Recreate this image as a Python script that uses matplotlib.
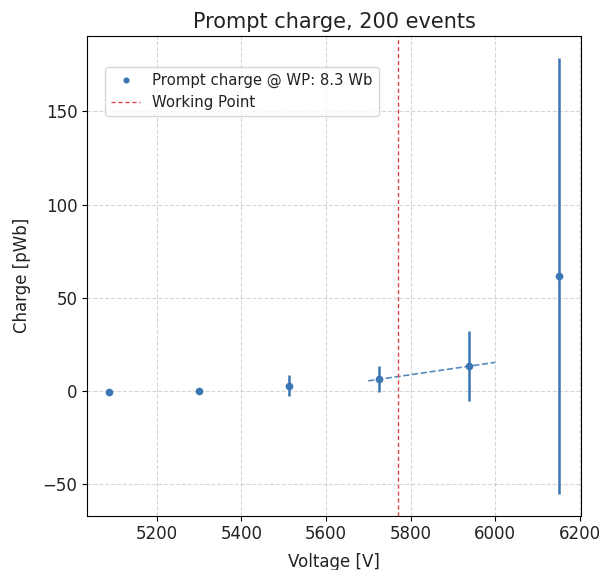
import numpy as np
import matplotlib
matplotlib.use('Agg')
import matplotlib.pyplot as plt

# данные
voltage = np.array([5088, 5300, 5513, 5725, 5938, 6150])
charge = np.array([-0.7, 0.0, 2.9, 6.5, 13.4, 61.8])
charge_err = np.array([0.4, 0.3, 5.7, 7.0, 18.8, 116.8])

fit_v = np.array([5700, 6000])
fit_q = np.array([5.5, 15.4])

wp_voltage = 5770

blue = '#3a76b4'

fig = plt.figure(figsize=(6.04, 5.7), dpi=100)
ax = fig.add_axes([0.144, 0.0956, 0.818, 0.841])

ax.errorbar(voltage, charge, yerr=charge_err, fmt='none', ecolor=blue, elinewidth=1.8)
ax.plot(voltage, charge, 'o', color=blue, markersize=4.5, label='Prompt charge @ WP: 8.3 Wb')
ax.plot(fit_v, fit_q, '--', color=blue, alpha=0.85, linewidth=1.2)
ax.axvline(wp_voltage, color='#e04848', linestyle='--', linewidth=1.0, dashes=(3, 2), label='Working Point')

ax.grid(True, linestyle='--', color='#cccccc', alpha=0.8)
ax.set_title('Prompt charge, 200 events', fontsize=15, color='#222222')
ax.set_xlabel('Voltage [V]', fontsize=12, labelpad=7, color='#222222')
ax.set_ylabel('Charge [pWb]', fontsize=12, labelpad=8, color='#222222')
ax.tick_params(labelsize=12, labelcolor='#222222')
leg = ax.legend(loc='upper left', bbox_to_anchor=(0.036, 0.936), borderaxespad=0,
                fontsize=10.7, markerscale=0.75)
for t in leg.get_texts():
    t.set_color('#222222')

fig.savefig('out.png', dpi=100)
